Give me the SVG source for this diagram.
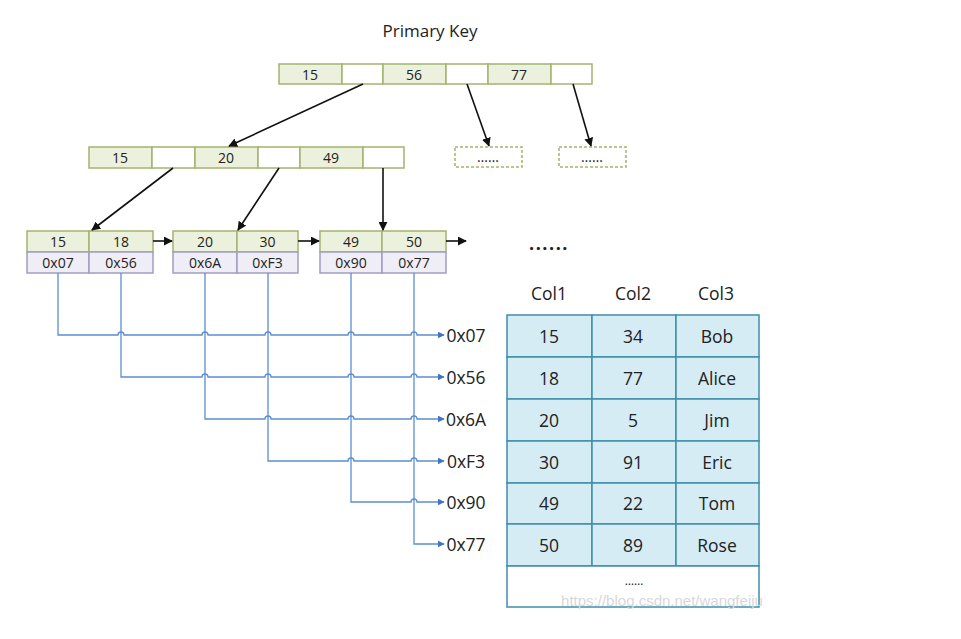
<svg xmlns="http://www.w3.org/2000/svg" width="961" height="639" viewBox="0 0 961 639">
<style>
text{font-family:"Open Sans","Noto Sans","Liberation Sans",sans-serif;fill:#222;text-anchor:middle;dominant-baseline:central}
.k{fill:#ebf1dd;stroke:#a3b46e;stroke-width:1.5}
.e{fill:#fff;stroke:#a3b46e;stroke-width:1.5}
.p{fill:#efedf6;stroke:#a19cc4;stroke-width:1.5}
.d{fill:#fff;stroke:#a3b46e;stroke-width:1.5;stroke-dasharray:3 2}
.t{fill:#d6ecf4;stroke:#3e8fab;stroke-width:1.5}
.tw{fill:#fff;stroke:#3e8fab;stroke-width:1.5}
.s{font-size:14px}
.m{font-size:17.5px}
.bl{stroke:#5b8ed1;stroke-width:1.3;fill:none}
.ar{stroke:#111;stroke-width:1.6;fill:none}
</style>
<defs>
<marker id="ah" viewBox="0 0 10 10" refX="9" refY="5" markerWidth="9" markerHeight="9" markerUnits="userSpaceOnUse" orient="auto"><path d="M0,0 L10,5 L0,10 z" fill="#111"/></marker>
<marker id="bh" viewBox="0 0 10 10" refX="9" refY="5" markerWidth="7" markerHeight="7" markerUnits="userSpaceOnUse" orient="auto"><path d="M0,0 L10,5 L0,10 z" fill="#3f74c8"/></marker>
</defs>
<rect width="961" height="639" fill="#fff"/>
<text x="430" y="30" style="font-size:17px">Primary Key</text>

<g id="root">
<rect class="k" x="279" y="64" width="63" height="20"/><rect class="e" x="342" y="64" width="41" height="20"/>
<rect class="k" x="383" y="64" width="63" height="20"/><rect class="e" x="446" y="64" width="42" height="20"/>
<rect class="k" x="488" y="64" width="63" height="20"/><rect class="e" x="551" y="64" width="41" height="20"/>
<text class="s" x="310" y="74">15</text><text class="s" x="414" y="74">56</text><text class="s" x="519" y="74">77</text>
</g>
<g id="inner">
<rect class="k" x="89" y="147" width="63" height="21"/><rect class="e" x="152" y="147" width="43" height="21"/>
<rect class="k" x="195" y="147" width="63" height="21"/><rect class="e" x="258" y="147" width="42" height="21"/>
<rect class="k" x="300" y="147" width="63" height="21"/><rect class="e" x="363" y="147" width="41" height="21"/>
<text class="s" x="120" y="157.5">15</text><text class="s" x="226" y="157.5">20</text><text class="s" x="331" y="157.5">49</text>
</g>
<g id="dash1"><rect class="d" x="455" y="147" width="67" height="20"/><text class="s" x="488" y="156">……</text></g>
<g id="dash2"><rect class="d" x="559" y="147" width="67" height="20"/><text class="s" x="592" y="156">……</text></g>

<g id="leaf1">
<rect class="k" x="27" y="231" width="62" height="21"/><rect class="k" x="89" y="231" width="64" height="21"/>
<rect class="p" x="27" y="252" width="62" height="21"/><rect class="p" x="89" y="252" width="64" height="21"/>
<text class="s" x="58" y="241.5">15</text><text class="s" x="121" y="241.5">18</text>
<text class="s" x="58" y="262.5">0x07</text><text class="s" x="121" y="262.5">0x56</text>
</g>
<g id="leaf2">
<rect class="k" x="173" y="231" width="64" height="21"/><rect class="k" x="237" y="231" width="61" height="21"/>
<rect class="p" x="173" y="252" width="64" height="21"/><rect class="p" x="237" y="252" width="61" height="21"/>
<text class="s" x="205" y="241.5">20</text><text class="s" x="267.5" y="241.5">30</text>
<text class="s" x="205" y="262.5">0x6A</text><text class="s" x="267.5" y="262.5">0xF3</text>
</g>
<g id="leaf3">
<rect class="k" x="320" y="231" width="62" height="21"/><rect class="k" x="382" y="231" width="64" height="21"/>
<rect class="p" x="320" y="252" width="62" height="21"/><rect class="p" x="382" y="252" width="64" height="21"/>
<text class="s" x="351" y="241.5">49</text><text class="s" x="414" y="241.5">50</text>
<text class="s" x="351" y="262.5">0x90</text><text class="s" x="414" y="262.5">0x77</text>
</g>
<text x="549" y="243" style="font-size:18px;font-weight:bold;letter-spacing:1.5px">......</text>

<g id="connectors">
<line class="ar" x1="363" y1="84" x2="229" y2="146" marker-end="url(#ah)"/>
<line class="ar" x1="467" y1="84" x2="489" y2="146" marker-end="url(#ah)"/>
<line class="ar" x1="573" y1="84" x2="591" y2="146" marker-end="url(#ah)"/>
<line class="ar" x1="173" y1="168" x2="92" y2="230" marker-end="url(#ah)"/>
<line class="ar" x1="279" y1="168" x2="238" y2="230" marker-end="url(#ah)"/>
<line class="ar" x1="383" y1="168" x2="383" y2="230" marker-end="url(#ah)"/>
<line class="ar" x1="153" y1="241" x2="172" y2="241" marker-end="url(#ah)"/>
<line class="ar" x1="298" y1="241" x2="319" y2="241" marker-end="url(#ah)"/>
<line class="ar" x1="446" y1="241" x2="466" y2="241" marker-end="url(#ah)"/>

<path class="bl" d="M58,273 V335 H118 a3,3 0 0 1 6,0 H202 a3,3 0 0 1 6,0 H265 a3,3 0 0 1 6,0 H348 a3,3 0 0 1 6,0 H411 a3,3 0 0 1 6,0 H444" marker-end="url(#bh)"/>
<path class="bl" d="M121,273 V377 H202 a3,3 0 0 1 6,0 H265 a3,3 0 0 1 6,0 H348 a3,3 0 0 1 6,0 H411 a3,3 0 0 1 6,0 H444" marker-end="url(#bh)"/>
<path class="bl" d="M205,273 V419 H265 a3,3 0 0 1 6,0 H348 a3,3 0 0 1 6,0 H411 a3,3 0 0 1 6,0 H444" marker-end="url(#bh)"/>
<path class="bl" d="M268,273 V461 H348 a3,3 0 0 1 6,0 H411 a3,3 0 0 1 6,0 H444" marker-end="url(#bh)"/>
<path class="bl" d="M351,273 V502 H411 a3,3 0 0 1 6,0 H444" marker-end="url(#bh)"/>
<path class="bl" d="M414,273 V544 H444" marker-end="url(#bh)"/>
</g>
<g id="addr">
<text class="m" x="466" y="335">0x07</text>
<text class="m" x="466" y="377">0x56</text>
<text class="m" x="466" y="419">0x6A</text>
<text class="m" x="466" y="461">0xF3</text>
<text class="m" x="466" y="502">0x90</text>
<text class="m" x="466" y="544">0x77</text>
</g>

<g id="table">
<text class="m" x="549" y="293">Col1</text><text class="m" x="633" y="293">Col2</text><text class="m" x="716" y="293">Col3</text>
<rect class="t" x="507" y="315" width="85" height="42"/><rect class="t" x="592" y="315" width="84" height="42"/><rect class="t" x="676" y="315" width="83" height="42"/>
<rect class="t" x="507" y="357" width="85" height="42"/><rect class="t" x="592" y="357" width="84" height="42"/><rect class="t" x="676" y="357" width="83" height="42"/>
<rect class="t" x="507" y="399" width="85" height="42"/><rect class="t" x="592" y="399" width="84" height="42"/><rect class="t" x="676" y="399" width="83" height="42"/>
<rect class="t" x="507" y="441" width="85" height="42"/><rect class="t" x="592" y="441" width="84" height="42"/><rect class="t" x="676" y="441" width="83" height="42"/>
<rect class="t" x="507" y="483" width="85" height="41"/><rect class="t" x="592" y="483" width="84" height="41"/><rect class="t" x="676" y="483" width="83" height="41"/>
<rect class="t" x="507" y="524" width="85" height="42"/><rect class="t" x="592" y="524" width="84" height="42"/><rect class="t" x="676" y="524" width="83" height="42"/>
<rect class="tw" x="507" y="566" width="252" height="41"/>
<text class="m" x="549" y="336">15</text><text class="m" x="633" y="336">34</text><text class="m" x="717" y="336">Bob</text>
<text class="m" x="549" y="378">18</text><text class="m" x="633" y="378">77</text><text class="m" x="717" y="378">Alice</text>
<text class="m" x="549" y="420">20</text><text class="m" x="633" y="420">5</text><text class="m" x="717" y="420">Jim</text>
<text class="m" x="549" y="462">30</text><text class="m" x="633" y="462">91</text><text class="m" x="717" y="462">Eric</text>
<text class="m" x="549" y="503">49</text><text class="m" x="633" y="503">22</text><text class="m" x="717" y="503">Tom</text>
<text class="m" x="549" y="545">50</text><text class="m" x="633" y="545">89</text><text class="m" x="717" y="545">Rose</text>
<text style="font-size:12px" x="634" y="580">……</text>
</g>
<text x="662" y="600" style="font-size:15px;fill:#d8d8d8;font-family:'Liberation Sans',sans-serif">https://blog.csdn.net/wangfeiju</text>
</svg>
